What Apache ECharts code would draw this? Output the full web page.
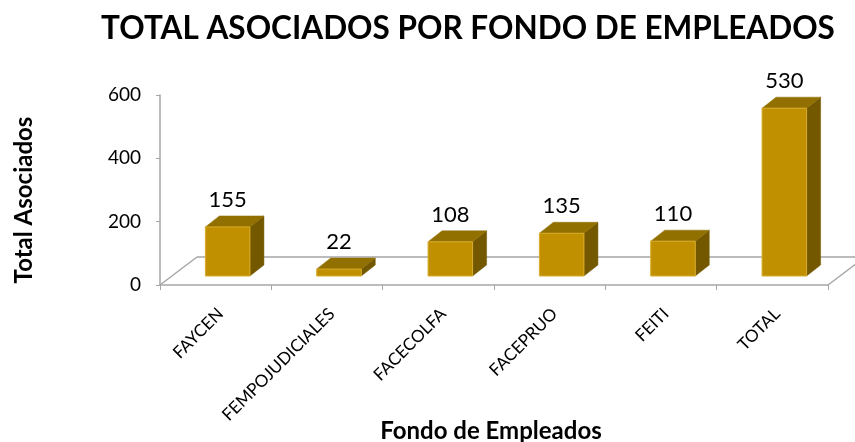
<!DOCTYPE html>
<html>
<head>
<meta charset="utf-8">
<script src="https://cdn.jsdelivr.net/npm/echarts@6/dist/echarts.min.js"></script>
<style>
html,body{margin:0;padding:0;background:#fff}
#main{width:855px;height:442px}
</style>
</head>
<body>
<div id="main"></div>
<script>
// datos del grafico
var categorias = ['FAYCEN', 'FEMPOJUDICIALES', 'FACECOLFA', 'FACEPRUO', 'FEITI', 'TOTAL'];
var asociados = [155, 22, 108, 135, 110, 530];
var yTicks = [0, 200, 400, 600];

var titulo = 'TOTAL ASOCIADOS POR FONDO DE EMPLEADOS';
var tituloX = 'Fondo de Empleados';
var tituloY = 'Total Asociados';

var fuente = 'Lato';

// profundidad 3d
var pisoDx = 37, pisoDy = 28;
var barOffX = 12, barOffY = 9;
var barDx = 14, barDy = 11;

var myChart = echarts.init(document.getElementById('main'));

var option = {
    backgroundColor: '#fff',
    animation: false,
    grid: {left: 160, right: 27, top: 95, bottom: 157},
    graphic: [
        {type: 'text', x: 468, y: 29, style: {text: titulo, align: 'center', verticalAlign: 'middle',
            fontFamily: fuente, fontWeight: 'bold', fontSize: 31.5, fill: '#000'}},
        {type: 'text', x: 491, y: 431, style: {text: tituloX, align: 'center', verticalAlign: 'middle',
            fontFamily: fuente, fontWeight: 'bold', fontSize: 24, fill: '#000'}},
        {type: 'text', x: 24, y: 200, rotation: Math.PI / 2, style: {text: tituloY, align: 'center', verticalAlign: 'middle',
            fontFamily: fuente, fontWeight: 'bold', fontSize: 24, fill: '#000'}}
    ],
    xAxis: {
        type: 'category',
        data: categorias,
        axisLine: {lineStyle: {color: '#A6A6A6', width: 1.5}},
        axisTick: {show: true, length: 5, lineStyle: {color: '#A6A6A6'}},
        axisLabel: {rotate: 45, margin: 31, padding: [0, -7, 0, 0], fontSize: 17, color: '#000', fontFamily: fuente}
    },
    yAxis: {
        type: 'value',
        min: yTicks[0],
        max: yTicks[yTicks.length - 1],
        interval: yTicks[1] - yTicks[0],
        splitLine: {show: false},
        axisLine: {show: true, lineStyle: {color: '#A6A6A6', width: 1.5}},
        axisTick: {show: true, length: 4, lineStyle: {color: '#A6A6A6'}},
        axisLabel: {margin: 19, fontSize: 19, color: '#000', fontFamily: fuente}
    },
    series: [
        {
            // piso
            type: 'custom',
            z: 1,
            data: [[0, 0]],
            silent: true,
            renderItem: function (params, api) {
                var cs = params.coordSys;
                var yb = cs.y + cs.height;
                var estilo = {stroke: '#A6A6A6', lineWidth: 1.5, fill: null};
                return {
                    type: 'group',
                    children: [
                        {type: 'line', shape: {x1: cs.x, y1: yb, x2: cs.x + pisoDx, y2: yb - pisoDy}, style: estilo},
                        {type: 'line', shape: {x1: cs.x + pisoDx, y1: yb - pisoDy, x2: cs.x + cs.width + pisoDx, y2: yb - pisoDy}, style: estilo},
                        {type: 'line', shape: {x1: cs.x + cs.width, y1: yb, x2: cs.x + cs.width + pisoDx, y2: yb - pisoDy}, style: estilo}
                    ]
                };
            }
        },
        {
            type: 'custom',
            z: 3,
            data: asociados.map(function (v, i) { return [i, v]; }),
            renderItem: function (params, api) {
                var v = api.value(1);
                var p = api.coord([api.value(0), v]);
                var b = api.coord([api.value(0), 0]);
                var bw = api.size([1, 0])[0] * 0.4;
                var x0 = p[0] - bw / 2 + barOffX;
                var x1 = x0 + bw;
                var yt = p[1] - barOffY;
                var yb = b[1] - barOffY;
                return {
                    type: 'group',
                    children: [
                        {type: 'polygon', shape: {points: [[x1, yt], [x1 + barDx, yt - barDy], [x1 + barDx, yb - barDy], [x1, yb]]},
                            style: {fill: '#735800', stroke: '#735800', lineWidth: 0.5}},
                        {type: 'polygon', shape: {points: [[x0, yt], [x0 + barDx, yt - barDy], [x1 + barDx, yt - barDy], [x1, yt]]},
                            style: {fill: '#917000', stroke: '#917000', lineWidth: 0.5}},
                        {type: 'rect', shape: {x: x0, y: yt, width: bw, height: yb - yt},
                            style: {fill: '#C09000', stroke: '#D9AC2A', lineWidth: 1}},
                        {type: 'text', style: {text: String(v), x: (x0 + x1) / 2, y: yt - 27, align: 'center', verticalAlign: 'middle',
                            fontFamily: fuente, fontSize: 22, fill: '#000'}}
                    ]
                };
            }
        }
    ]
};
myChart.setOption(option);
</script>
</body>
</html>
